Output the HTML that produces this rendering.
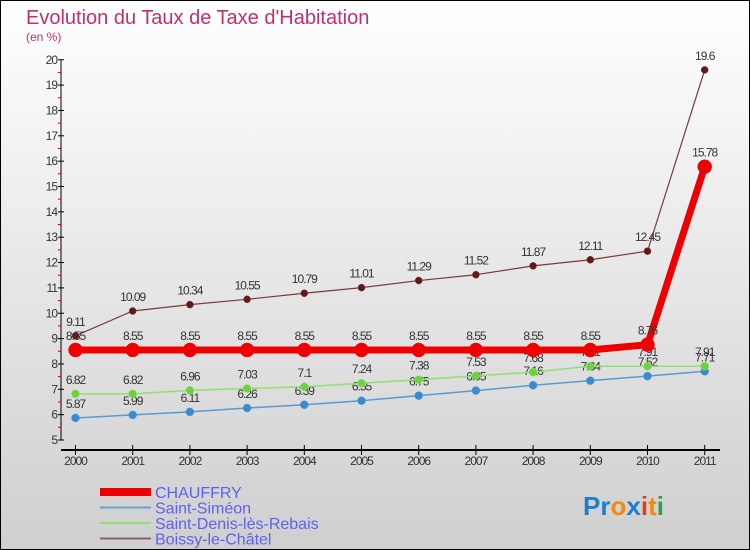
<!DOCTYPE html>
<html><head><meta charset="utf-8"><style>
body{margin:0}
svg{display:block;font-family:"Liberation Sans",sans-serif}
</style></head><body>
<svg width="750" height="550" viewBox="0 0 750 550">
<defs><linearGradient id="bg" x1="0" y1="0" x2="0" y2="1"><stop offset="0" stop-color="#ffffff"/><stop offset="1" stop-color="#cfcfcf"/></linearGradient></defs>
<rect x="0.5" y="0.5" width="749" height="549" fill="url(#bg)" stroke="#000"/>
<text x="26" y="24" font-size="20" fill="#c0306a">Evolution du Taux de Taxe d'Habitation</text>
<text x="26" y="41" font-size="12" fill="#c0306a">(en %)</text>
<g id="axes"></g>
<g id="series"></g>
<g id="legend"></g>
<text x="583" y="515" font-size="26" font-weight="bold"><tspan fill="#1a7fd0">Pr</tspan><tspan fill="#f08a10">o</tspan><tspan fill="#1a7fd0">x</tspan><tspan fill="#e04010">i</tspan><tspan fill="#f08a10">t</tspan><tspan fill="#30a040">i</tspan></text>
</svg>
<script>
const years=["2000","2001","2002","2003","2004","2005","2006","2007","2008","2009","2010","2011"];
const chauffry=[8.55,8.55,8.55,8.55,8.55,8.55,8.55,8.55,8.55,8.55,8.76,15.78];
const saintSimeon=[5.87,5.99,6.11,6.26,6.39,6.55,6.75,6.95,7.16,7.34,7.52,7.71];
const saintDenis=[6.82,6.82,6.96,7.03,7.1,7.24,7.38,7.53,7.68,7.91,7.91,7.91];
const boissy=[9.11,10.09,10.34,10.55,10.79,11.01,11.29,11.52,11.87,12.11,12.45,19.6];
const yTicks=[5,6,7,8,9,10,11,12,13,14,15,16,17,18,19,20];
const NS="http://www.w3.org/2000/svg";
const X=i=>75.5+i*57.2;
const Y=v=>440-(v-5)*25.35;
function mk(tag,attrs,parent){const e=document.createElementNS(NS,tag);for(const k in attrs)e.setAttribute(k,attrs[k]);parent.appendChild(e);return e;}
const ax=document.getElementById('axes');
let l=mk('line',{x1:61,y1:Y(5),x2:61,y2:Y(20),stroke:'#000'},ax);


l=mk('line',{x1:61,y1:450,x2:720,y2:450,stroke:'#000','stroke-width':2},ax);


yTicks.forEach((t,i)=>{
  mk('line',{x1:58,y1:Y(t),x2:64,y2:Y(t),stroke:'#000'},ax);
  if(i<yTicks.length-1) mk('line',{x1:58,y1:Y(t+0.5),x2:61,y2:Y(t+0.5),stroke:'#e00000'},ax);
  const tx=mk('text',{x:57,y:Y(t)+4,'font-size':12,'text-anchor':'end',fill:'#333','letter-spacing':-1},ax);
  tx.textContent=t;
  
  
});
years.forEach((yr,i)=>{
  mk('line',{x1:X(i),y1:445,x2:X(i),y2:455,stroke:'#000'},ax);
  const tx=mk('text',{x:X(i),y:465,'font-size':12,'text-anchor':'middle',fill:'#333','letter-spacing':-1},ax);
  tx.textContent=yr;
  
  
});
const sg=document.getElementById('series');
function drawSeries(vals,color,dot,w,r,name){
  const g=mk('g',{},sg);
  
  
  mk('polyline',{points:vals.map((v,i)=>X(i)+','+Y(v)).join(' '),fill:'none',stroke:color,'stroke-width':w,'stroke-linejoin':'round'},g);
  vals.forEach((v,i)=>{
    const c=mk('circle',{cx:X(i),cy:Y(v),r:r,fill:dot,stroke:color,'stroke-width':0.5},g);
    
    
    const t=mk('text',{x:X(i),y:Y(v)-10,'font-size':12,'text-anchor':'middle',fill:'#333','letter-spacing':-1},g);
    t.textContent=v;
    
    
  });
}
drawSeries(saintSimeon,'#5a9ad0','#3a8ad0',1.5,4,'saint-simeon-series');
drawSeries(saintDenis,'#90e070','#70d040',1.5,4,'saint-denis-series');
drawSeries(boissy,'#7a3a3a','#601818',1.2,3.5,'boissy-series');
drawSeries(chauffry,'#ee0000','#ee0000',7,7,'chauffry-series');
const lg=document.getElementById('legend');
const legendItems=[["CHAUFFRY","#ee0000",8],["Saint-Siméon","#6aa0d0",2],["Saint-Denis-lès-Rebais","#90e070",2],["Boissy-le-Châtel","#906060",2]];
legendItems.forEach((it,i)=>{
  const y=492+i*15.5;
  const g=mk('g',{},lg);
  
  
  mk('line',{x1:100,y1:y,x2:151,y2:y,stroke:it[1],'stroke-width':it[2]},g);
  const t=mk('text',{x:155,y:y+6,'font-size':16,fill:'#6060f0'},g);
  t.textContent=it[0];
});
</script>
</body></html>
